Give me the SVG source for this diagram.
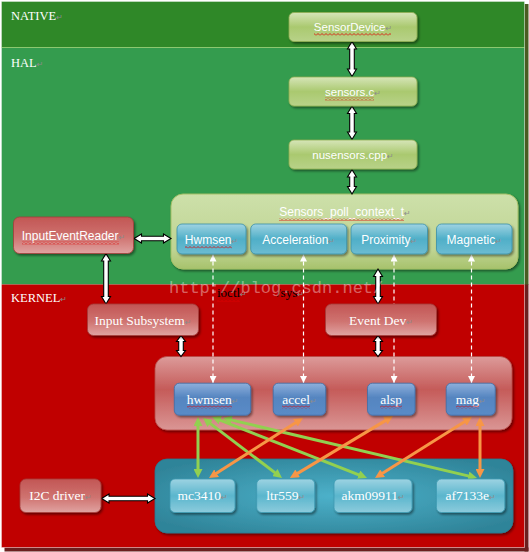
<svg xmlns="http://www.w3.org/2000/svg" width="529" height="552" viewBox="0 0 529 552">
<defs>
<style>
.sans{font-family:"Liberation Sans","DejaVu Sans",sans-serif;fill:#fff}
.serif{font-family:"Liberation Serif","DejaVu Serif",serif;fill:#fff}
.pm{font-family:"DejaVu Sans",sans-serif;fill:#8c8c8c;font-size:8px}
.band{font-family:"Liberation Serif","DejaVu Serif",serif;fill:#fff;font-size:12.5px}
.wa{fill:#fff;stroke:#000;stroke-width:1.1;stroke-linejoin:miter}
.dash{stroke:#fff;stroke-width:1.2;stroke-dasharray:4 3;fill:none;marker-start:url(#wA);marker-end:url(#wA)}
.ga{stroke:#92d050;stroke-width:3;fill:none;marker-start:url(#gA);marker-end:url(#gA)}
.oa{stroke:#f79646;stroke-width:3;fill:none;marker-start:url(#oA);marker-end:url(#oA)}
.gn{fill:url(#gGreen);stroke:#8fae52;stroke-width:0.8;filter:url(#sh)}
.bh{fill:url(#gBlueH);stroke:#3a8fa8;stroke-width:0.8;filter:url(#sh)}
.rn{fill:url(#gRed);stroke:#a53c3a;stroke-width:0.8;filter:url(#sh)}
.bk{fill:url(#gBlueK);stroke:#3e6fa8;stroke-width:0.8;filter:url(#sh)}
.tc{fill:url(#gTealC);stroke:#3d9ab3;stroke-width:0.8;filter:url(#sh)}
.sq{fill:url(#wavy)}
</style>
<filter id="sh" x="-10%" y="-15%" width="125%" height="150%">
<feDropShadow dx="1.5" dy="1.8" stdDeviation="0.8" flood-color="#000" flood-opacity="0.45"/>
</filter>
<linearGradient id="gGreen" x1="0" y1="0" x2="0" y2="1">
<stop offset="0" stop-color="#d6e5b8"/><stop offset="0.5" stop-color="#aac96f"/><stop offset="1" stop-color="#b8d289"/>
</linearGradient>
<linearGradient id="gBlueH" x1="0" y1="0" x2="0" y2="1">
<stop offset="0" stop-color="#9fd3e2"/><stop offset="0.5" stop-color="#4fafc8"/><stop offset="1" stop-color="#6cbcd2"/>
</linearGradient>
<linearGradient id="gRed" x1="0" y1="0" x2="0" y2="1">
<stop offset="0" stop-color="#c25654"/><stop offset="0.55" stop-color="#cf7370"/><stop offset="1" stop-color="#e0a3a1"/>
</linearGradient>
<linearGradient id="gBlueK" x1="0" y1="0" x2="0" y2="1">
<stop offset="0" stop-color="#8dafdc"/><stop offset="0.45" stop-color="#5585c0"/><stop offset="1" stop-color="#5a8bc7"/>
</linearGradient>
<linearGradient id="gTealC" x1="0" y1="0" x2="0" y2="1">
<stop offset="0" stop-color="#9dd3e2"/><stop offset="0.5" stop-color="#5ab6cd"/><stop offset="1" stop-color="#8ccbdc"/>
</linearGradient>
<linearGradient id="gOlive" x1="0" y1="0" x2="0" y2="1">
<stop offset="0" stop-color="#cde0aa"/><stop offset="0.75" stop-color="#bfd492"/><stop offset="1" stop-color="#a7c26c"/>
</linearGradient>
<linearGradient id="gPink" x1="0" y1="0" x2="0" y2="1">
<stop offset="0" stop-color="#dc9b9a"/><stop offset="0.45" stop-color="#c55b59"/><stop offset="1" stop-color="#da9695"/>
</linearGradient>
<radialGradient id="gTeal" cx="0.5" cy="0.5" r="0.6">
<stop offset="0" stop-color="#4db1ca"/><stop offset="1" stop-color="#2f8499"/>
</radialGradient>
<pattern id="wavy" width="4" height="3" patternUnits="userSpaceOnUse">
<path d="M0,2.5 L2,0.5 L4,2.5" fill="none" stroke="#e00000" stroke-width="0.8"/>
</pattern>
<marker id="wA" viewBox="0 0 10 10" refX="10" refY="5" markerWidth="7" markerHeight="7" markerUnits="userSpaceOnUse" orient="auto-start-reverse">
<path d="M0,0 L10,5 L0,10 z" fill="#fff"/>
</marker>
<marker id="gA" viewBox="0 0 10 10" refX="3.3" refY="5" markerWidth="9" markerHeight="9" markerUnits="userSpaceOnUse" orient="auto-start-reverse">
<path d="M0,0 L10,5 L0,10 z" fill="#92d050"/>
</marker>
<marker id="oA" viewBox="0 0 10 10" refX="3.3" refY="5" markerWidth="9" markerHeight="9" markerUnits="userSpaceOnUse" orient="auto-start-reverse">
<path d="M0,0 L10,5 L0,10 z" fill="#f79646"/>
</marker>
</defs>

<rect width="529" height="552" fill="#fff"/>

<!-- layers / bands -->
<g id="bands">
<rect x="524.5" y="4" width="4" height="281" fill="#4a5c22"/>
<rect x="524.5" y="284.5" width="4" height="267" fill="#6b1f1f"/>
<rect x="4.5" y="547.5" width="524" height="4" fill="#6b1f1f"/>
<rect x="1.5" y="1.5" width="523" height="46" fill="#2f8828"/>
<rect x="1.5" y="47.5" width="523" height="237" fill="#349c4e"/>
<rect x="1.5" y="284.5" width="523" height="263" fill="#c00000"/>
<line x1="1.5" y1="47.5" x2="524.5" y2="47.5" stroke="#8cc870" stroke-width="1"/>
<rect x="1.5" y="1.5" width="523" height="546" fill="none" stroke="#fff" stroke-opacity="0.35" stroke-width="1"/>
<text class="band" x="11" y="20">NATIVE<tspan class="pm">↵</tspan></text>
<text class="band" x="11" y="67">HAL<tspan class="pm">↵</tspan></text>
<text class="band" x="11" y="302">KERNEL<tspan class="pm">↵</tspan></text>
</g>

<!-- containers -->
<g id="sensors_poll_context_t">
<rect x="171" y="194" width="347" height="75" rx="12" fill="url(#gOlive)" stroke="#a3bf66" stroke-width="1" filter="url(#sh)"/>
<text class="sans" x="345" y="216" font-size="12" text-anchor="middle">Sensors_poll_context_t<tspan class="pm">↵</tspan></text>
<rect class="sq" x="279" y="218" width="125" height="3"/>
</g>
<g id="kernel_drivers">
<rect x="155" y="356.5" width="357" height="73.5" rx="12" fill="url(#gPink)" stroke="#b84a48" stroke-width="0.8" filter="url(#sh)"/>
</g>
<g id="i2c_devices">
<rect x="155" y="459" width="358" height="74" rx="12" fill="url(#gTeal)" stroke="#2a7a8f" stroke-width="0.8" filter="url(#sh)"/>
</g>

<!-- connectors -->
<g id="connectors">
<polygon class="wa" points="352,41.5 356.5,49 354.3,49 354.3,69 356.5,69 352,76.5 347.5,69 349.7,69 349.7,49 347.5,49"/>
<polygon class="wa" points="352,106 356.5,113.5 354.3,113.5 354.3,132 356.5,132 352,139.5 347.5,132 349.7,132 349.7,113.5 347.5,113.5"/>
<polygon class="wa" points="352,169.5 356.5,177 354.3,177 354.3,186.5 356.5,186.5 352,194 347.5,186.5 349.7,186.5 349.7,177 347.5,177"/>
<polygon class="wa" points="134,238.5 141.5,234 141.5,236.2 163.5,236.2 163.5,234 171,238.5 163.5,243 163.5,240.8 141.5,240.8 141.5,243"/>
<polygon class="wa" points="106,253.5 110.5,261 108.3,261 108.3,296.5 110.5,296.5 106,304 101.5,296.5 103.7,296.5 103.7,261 101.5,261"/>
<polygon class="wa" points="181,335.5 185.5,341.5 183.3,341.5 183.3,350.5 185.5,350.5 181,356.5 176.5,350.5 178.7,350.5 178.7,341.5 176.5,341.5"/>
<polygon class="wa" points="378,269 382.5,276.5 380.3,276.5 380.3,296.5 382.5,296.5 378,304 373.5,296.5 375.7,296.5 375.7,276.5 373.5,276.5"/>
<polygon class="wa" points="378,335.5 382.5,341.5 380.3,341.5 380.3,350.5 382.5,350.5 378,356.5 373.5,350.5 375.7,350.5 375.7,341.5 373.5,341.5"/>
<polygon class="wa" points="101.5,498.5 109,494 109,496.2 147.5,496.2 147.5,494 155,498.5 147.5,503 147.5,500.8 109,500.8 109,503"/>
<line class="dash" x1="213" y1="254.5" x2="213" y2="383"/>
<line class="dash" x1="303.5" y1="254.5" x2="303.5" y2="383"/>
<line class="dash" x1="394" y1="254.5" x2="394" y2="383"/>
<line class="dash" x1="471.5" y1="254.5" x2="471.5" y2="383"/>
<line class="ga" x1="198" y1="423" x2="198" y2="472"/>
<line class="ga" x1="207.8" y1="421.6" x2="277.2" y2="474.4"/>
<line class="ga" x1="217.6" y1="419.2" x2="361.4" y2="475.8"/>
<line class="ga" x1="228.8" y1="419.4" x2="471.2" y2="476.6"/>
<line class="oa" x1="214.1" y1="474.8" x2="297.9" y2="421.2"/>
<line class="oa" x1="295.1" y1="474.9" x2="387.9" y2="419.1"/>
<line class="oa" x1="380.1" y1="474.8" x2="466.9" y2="420.2"/>
<line class="oa" x1="480" y1="423" x2="480" y2="472"/>
<text x="217" y="297" font-family="Liberation Serif, serif" font-size="13" fill="#000">ioctl<tspan class="pm">↵</tspan></text>
<rect class="sq" x="217" y="299" width="23" height="3"/>
<text x="277" y="297" font-family="Liberation Serif, serif" font-size="13" fill="#000">/sys<tspan class="pm">↵</tspan></text>
</g>

<!-- HAL / native nodes -->
<g id="SensorDevice">
<rect class="gn" x="289" y="12.5" width="128" height="29" rx="5"/>
<text class="sans" x="353" y="31" font-size="11.5" text-anchor="middle">SensorDevice<tspan class="pm">↵</tspan></text>
<rect class="sq" x="314" y="33" width="77" height="3"/>
</g>
<g id="sensors_c">
<rect class="gn" x="289" y="77" width="128" height="29" rx="5"/>
<text class="sans" x="353" y="95.5" font-size="11.5" text-anchor="middle">sensors.c<tspan class="pm">↵</tspan></text>
<rect class="sq" x="325" y="97.5" width="49" height="3"/>
</g>
<g id="nusensors_cpp">
<rect class="gn" x="289" y="140" width="128" height="29" rx="5"/>
<text class="sans" x="353" y="158.5" font-size="11.5" text-anchor="middle">nusensors.cpp<tspan class="pm">↵</tspan></text>
</g>
<g id="Hwmsen">
<rect class="bh" x="177" y="224" width="69" height="30" rx="5"/>
<text class="sans" x="211.5" y="243.5" font-size="12" text-anchor="middle">Hwmsen<tspan class="pm">↵</tspan></text>
<rect class="sq" x="185" y="245.5" width="47" height="3"/>
</g>
<g id="Acceleration">
<rect class="bh" x="250.7" y="224" width="96" height="30" rx="5"/>
<text class="sans" x="298.7" y="243.5" font-size="12" text-anchor="middle">Acceleration<tspan class="pm">↵</tspan></text>
</g>
<g id="Proximity">
<rect class="bh" x="351" y="224" width="76.5" height="30" rx="5"/>
<text class="sans" x="389.2" y="243.5" font-size="12" text-anchor="middle">Proximity<tspan class="pm">↵</tspan></text>
</g>
<g id="Magnetic">
<rect class="bh" x="436.5" y="224" width="75.5" height="30" rx="5"/>
<text class="sans" x="474.2" y="243.5" font-size="12" text-anchor="middle">Magnetic<tspan class="pm">↵</tspan></text>
</g>
<g id="InputEventReader">
<rect class="rn" x="13.5" y="217" width="120" height="36.5" rx="6"/>
<text class="sans" x="73.5" y="239.5" font-size="12" text-anchor="middle">InputEventReader<tspan class="pm">↵</tspan></text>
<rect class="sq" x="22" y="241.5" width="97" height="3"/>
</g>

<!-- kernel nodes -->
<g id="InputSubsystem">
<rect class="rn" x="87.5" y="304" width="111" height="31.5" rx="6"/>
<text class="serif" x="143" y="324.5" font-size="13.5" text-anchor="middle">Input Subsystem<tspan class="pm">↵</tspan></text>
</g>
<g id="EventDev">
<rect class="rn" x="325.5" y="304" width="111" height="31.5" rx="6"/>
<text class="serif" x="381" y="324.5" font-size="13.5" text-anchor="middle">Event Dev<tspan class="pm">↵</tspan></text>
</g>
<g id="hwmsen">
<rect class="bk" x="174.3" y="383.2" width="76.4" height="32" rx="5"/>
<text class="serif" x="212.5" y="403.5" font-size="13.5" text-anchor="middle">hwmsen<tspan class="pm">↵</tspan></text>
<rect class="sq" x="187" y="405.5" width="45" height="3"/>
</g>
<g id="accel">
<rect class="bk" x="273.2" y="383.2" width="52.5" height="32" rx="5"/>
<text class="serif" x="299.5" y="403.5" font-size="13.5" text-anchor="middle">accel<tspan class="pm">↵</tspan></text>
<rect class="sq" x="282" y="405.5" width="28" height="3"/>
</g>
<g id="alsp">
<rect class="bk" x="367.5" y="383.2" width="47.5" height="32" rx="5"/>
<text class="serif" x="391.2" y="403.5" font-size="13.5" text-anchor="middle">alsp</text>
<rect class="sq" x="380" y="405.5" width="22" height="3"/>
</g>
<g id="mag">
<rect class="bk" x="446.2" y="383.2" width="49" height="32" rx="5"/>
<text class="serif" x="470.7" y="403.5" font-size="13.5" text-anchor="middle">mag<tspan class="pm">↵</tspan></text>
<rect class="sq" x="456" y="405.5" width="23" height="3"/>
</g>
<g id="mc3410">
<rect class="tc" x="170" y="479" width="65" height="33.5" rx="5"/>
<text class="serif" x="202.5" y="500" font-size="13.5" text-anchor="middle">mc3410<tspan class="pm">↵</tspan></text>
</g>
<g id="ltr559">
<rect class="tc" x="256.7" y="479" width="58" height="33.5" rx="5"/>
<text class="serif" x="285.7" y="500" font-size="13.5" text-anchor="middle">ltr559<tspan class="pm">↵</tspan></text>
</g>
<g id="akm09911">
<rect class="tc" x="334" y="479" width="78" height="33.5" rx="5"/>
<text class="serif" x="373" y="500" font-size="13.5" text-anchor="middle">akm09911<tspan class="pm">↵</tspan></text>
</g>
<g id="af7133e">
<rect class="tc" x="436.4" y="479" width="68.4" height="33.5" rx="5"/>
<text class="serif" x="470.6" y="500" font-size="13.5" text-anchor="middle">af7133e<tspan class="pm">↵</tspan></text>
</g>
<g id="I2Cdriver">
<rect class="rn" x="20" y="479" width="81" height="33.5" rx="6"/>
<text class="serif" x="60.5" y="500" font-size="13.5" text-anchor="middle">I2C driver<tspan class="pm">↵</tspan></text>
</g>

<text x="169" y="293" font-family="Liberation Mono, monospace" font-size="17" fill="#fff" fill-opacity="0.4">http://blog.csdn.net/</text>
</svg>
